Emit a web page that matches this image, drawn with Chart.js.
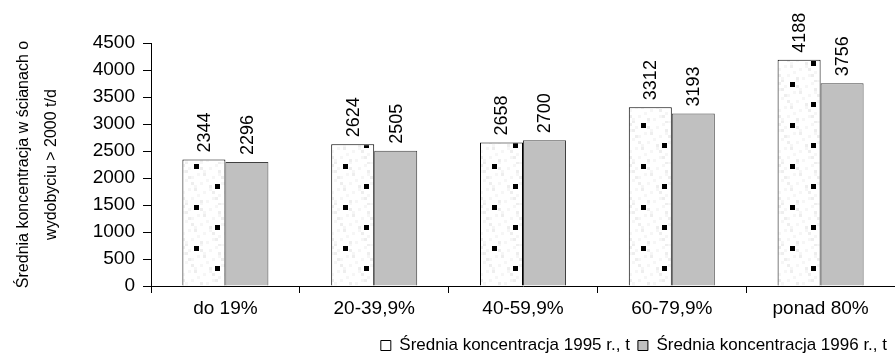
<!DOCTYPE html>
<html>
<head>
<meta charset="utf-8">
<script src="https://cdn.jsdelivr.net/npm/chart.js@4.4.0/dist/chart.umd.min.js"></script>
<style>
  html, body { margin: 0; padding: 0; background: #fff; }
  #wrap { position: relative; width: 895px; height: 360px; }
</style>
</head>
<body>
<div id="wrap"><canvas id="c"></canvas></div>
<script>
const categories = ['do 19%', '20-39,9%', '40-59,9%', '60-79,9%', 'ponad 80%'];
const conc1995 = [2344, 2624, 2658, 3312, 4188];
const conc1996 = [2296, 2505, 2700, 3193, 3756];
const seriesNames = ['Średnia koncentracja 1995 r., t', 'Średnia koncentracja 1996 r., t'];
const yTitle = ['Średnia koncentracja w ścianach o', 'wydobyciu > 2000 t/d'];

Chart.defaults.font.family = "'Liberation Sans', Arial, sans-serif";
Chart.defaults.color = '#000';

// excel-ish dotted fill for the 1995 bars
function makePattern() {
  const t = document.createElement('canvas');
  t.width = 149; t.height = 41;
  const g = t.getContext('2d');
  g.fillStyle = '#fff';
  g.fillRect(0, 0, 149, 41);
  g.fillStyle = '#eeeeee';
  for (let x = 0; x < 149; x += 3) {
    for (let y = 0; y < 41; y += 3) {
      if (((x * 7 + y * 13) % 11) === 0) g.fillRect(x, y, 3, 3);
    }
  }
  g.fillStyle = '#f6f6f6';
  for (let x = 0; x < 149; x += 3) {
    for (let y = 0; y < 41; y += 3) {
      if (((x * 5 + y * 3) % 7) === 1) g.fillRect(x, y, 3, 3);
    }
  }
  g.fillStyle = '#000';
  g.fillRect(45, 0, 5, 5);
  g.fillRect(66, 20, 5, 5);
  return g.createPattern(t, 'repeat');
}

const valueLabels = {
  id: 'valueLabels',
  afterDatasetsDraw(chart) {
    const ctx = chart.ctx;
    ctx.save();
    ctx.font = "18px 'Liberation Sans', Arial, sans-serif";
    ctx.fillStyle = '#000';
    ctx.textAlign = 'left';
    ctx.textBaseline = 'middle';
    chart.data.datasets.forEach((ds, di) => {
      chart.getDatasetMeta(di).data.forEach((bar, i) => {
        ctx.save();
        ctx.translate(bar.x + 1, bar.y - 7);
        ctx.rotate(-Math.PI / 2);
        ctx.fillText(String(ds.data[i]), 0, 0);
        ctx.restore();
      });
    });
    ctx.restore();
  }
};

new Chart(document.getElementById('c'), {
  type: 'bar',
  data: {
    labels: categories,
    datasets: [
      {
        label: seriesNames[0],
        data: conc1995,
        backgroundColor: makePattern(),
        borderColor: '#000',
        borderWidth: 1
      },
      {
        label: seriesNames[1],
        data: conc1996,
        backgroundColor: '#c0c0c0',
        borderColor: '#404040',
        borderWidth: 1
      }
    ]
  },
  options: {
    responsive: true,
    maintainAspectRatio: false,
    animation: false,
    devicePixelRatio: 1,
    layout: { padding: { top: 43, right: 0, left: 0, bottom: -4 } },
    categoryPercentage: 0.578,
    barPercentage: 1,
    plugins: {
      tooltip: { enabled: false },
      legend: {
        position: 'bottom',
        align: 'end',
        labels: {
          font: { size: 17 },
          color: '#000',
          boxWidth: 10,
          boxHeight: 10,
          padding: 8,
          generateLabels: chart => chart.data.datasets.map((ds, i) => ({
            text: ds.label,
            fillStyle: i === 0 ? '#fff' : '#c0c0c0',
            strokeStyle: '#000',
            lineWidth: 1,
            datasetIndex: i
          }))
        }
      }
    },
    scales: {
      x: {
        grid: { display: true, drawOnChartArea: false, drawTicks: true, tickLength: 7, color: '#000' },
        border: { display: true, color: '#000', width: 1 },
        ticks: { font: { size: 19 }, color: '#000', padding: 4 },
        afterFit: s => { s.height = 43; }
      },
      y: {
        min: 0,
        max: 4500,
        ticks: { stepSize: 500, font: { size: 19 }, color: '#000', padding: 8, callback: v => String(v) },
        grid: { display: true, drawOnChartArea: false, drawTicks: true, tickLength: 8, color: '#000' },
        border: { display: true, color: '#000', width: 1 },
        title: {
          display: true,
          text: yTitle,
          font: { size: 16, lineHeight: 1.75 },
          color: '#000',
          padding: { top: 10, bottom: 0 }
        },
        afterFit: s => { s.width = 151; }
      }
    }
  },
  plugins: [valueLabels]
});
</script>
</body>
</html>
